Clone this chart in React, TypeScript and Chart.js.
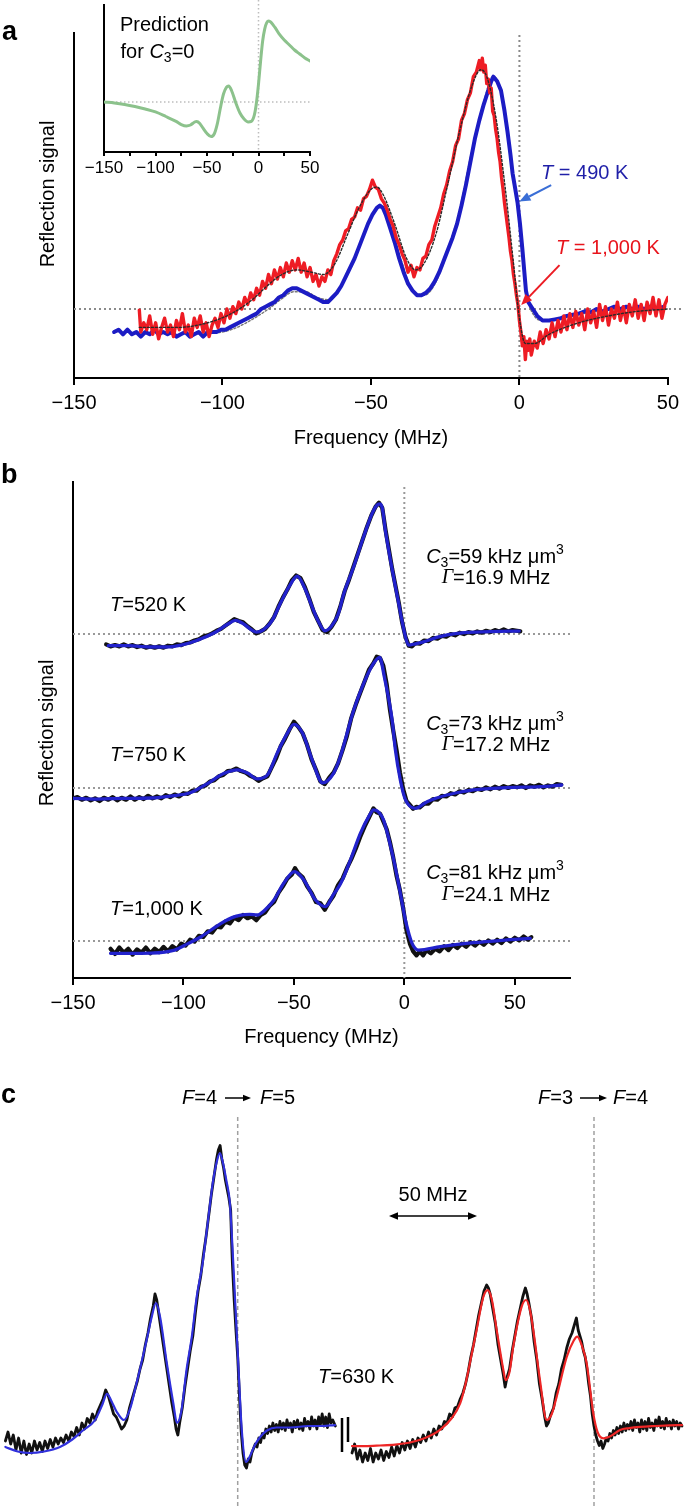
import React, { useEffect, useRef } from 'react';
import { Chart, registerables } from 'chart.js';

Chart.register(...registerables);

const SANS = '"Liberation Sans", Arial, Helvetica, sans-serif';
const SERIF = '"Liberation Serif", "Times New Roman", serif';

type Pt = [number, number];

// ---------------- Panel a : tick values ----------------
const ticksA = [-150, -100, -50, 0, 50];
const ticksInset = [-150, -125, -100, -75, -50, -25, 0, 25, 50];
const ticksB = [-150, -100, -50, 0, 50];

// Panel a, T = 490 K (blue)
const blue490K: Pt[] = [
  [-136.5, -10], [-135, -9], [-133.5, -11], [-132, -9], [-130.5, -11], [-129, -10], [-127.5, -12], [-126, -10],
  [-124.5, -11], [-123, -9], [-121.5, -11], [-120, -10], [-118.5, -11], [-117, -10], [-115.5, -12], [-114, -11],
  [-112.5, -10], [-111, -12], [-109.5, -11], [-108, -10], [-106.5, -12], [-105, -10], [-103.5, -10], [-102, -10],
  [-100.5, -9], [-99, -9], [-97.5, -8], [-96, -7], [-94.5, -6], [-93, -5], [-91.5, -4], [-90, -3], [-88.5, -2],
  [-87, 0], [-85.5, 1], [-84, 2], [-82.5, 3], [-81, 5], [-79.5, 6], [-78, 8], [-76.5, 9], [-75, 9], [-73.5, 8],
  [-72, 7], [-70.5, 6], [-69, 5], [-67.5, 4], [-66, 3], [-64.5, 3], [-63, 5], [-61.5, 7], [-60, 10], [-58.5, 14],
  [-57, 18], [-55.5, 22], [-54, 27], [-52.5, 32], [-51, 37], [-49.5, 41], [-48, 44], [-47, 45], [-46, 44],
  [-45, 41], [-43.5, 35], [-42, 29], [-40.5, 22], [-39, 16], [-37.5, 11], [-36, 8], [-34.5, 6], [-33, 6],
  [-31.5, 7], [-30, 9], [-28.5, 12], [-27, 16], [-25.5, 21], [-24, 26], [-22.5, 31], [-21, 37], [-19.5, 45],
  [-18, 54], [-16.5, 64], [-15, 74], [-13.5, 82], [-12, 89], [-10.5, 95], [-9.5, 99], [-8.75, 101], [-7.5, 99],
  [-6.2, 95], [-5, 86], [-4, 77], [-3, 67], [-2.3, 59], [-1.5, 53], [-0.6, 46], [0.2, 37], [1, 26], [1.6, 17],
  [2.2, 8], [3, 3], [4.5, 0], [6, -3], [7.8, -5], [10, -5], [12, -4.5], [14, -4], [16, -3], [18, -2.5], [20, -2],
  [22, -1], [24, -1.5], [26, 0], [28, -1], [30, 0], [32, 1], [34, 0], [36, 1], [38, 0], [40, 1], [42, 0],
  [44, 1], [46, 0], [48.8, 1],
];

// Panel a, T = 1,000 K (red, noisy)
const red1000K: Pt[] = [
  [-128, -0.5], [-127.5, -10], [-126.5, -6], [-125.5, -9], [-124.5, -3], [-123.5, -11], [-122.5, -6], [-121.5, -13],
  [-120.5, -8], [-119.5, -4], [-118.5, -10], [-117.5, -7], [-116.5, -12], [-115.5, -5], [-114.5, -9], [-113.5, -2],
  [-112.5, -10], [-111.5, -7], [-110.5, -12], [-109.5, -4], [-108.5, -8], [-107.5, -3], [-106.5, -10], [-105.5, -6],
  [-104.5, -12], [-103.5, -7], [-102.5, -4], [-101.5, -8], [-100.5, -2], [-99.5, -6], [-98.5, 0], [-97.5, -4],
  [-96.5, 1], [-95.5, -2], [-94.5, 3], [-93.5, 0], [-92.5, 5], [-91.5, 2], [-90.5, 7], [-89.5, 4], [-88.5, 9],
  [-87.5, 6], [-86.5, 12], [-85.5, 9], [-84.5, 15], [-83.5, 11], [-82.5, 17], [-81.5, 13], [-80.5, 18], [-79.5, 14],
  [-78.5, 20], [-77.5, 16], [-76.5, 21], [-75.5, 17], [-74.5, 22], [-73.5, 16], [-72.5, 20], [-71.5, 14], [-70.5, 18],
  [-69.5, 12], [-68.5, 15], [-67.5, 10], [-66.5, 14], [-65.5, 12], [-64.5, 17], [-63.5, 15], [-62.5, 21], [-61.5, 24],
  [-60.5, 28], [-59.5, 30], [-58.5, 34], [-57.5, 35], [-56.5, 39], [-55.5, 40], [-54.5, 44], [-53.5, 43], [-52.5, 48],
  [-51.5, 49], [-50.5, 52], [-49.5, 56], [-48.5, 53], [-47.5, 52], [-46.5, 48], [-45.5, 46], [-44.5, 43], [-43.5, 39],
  [-42.5, 36], [-41.5, 31], [-40.5, 28], [-39.5, 24], [-38.5, 21], [-37.5, 16], [-36.5, 19], [-35.5, 14], [-34.5, 18],
  [-33.5, 17], [-32.5, 22], [-31.5, 23], [-30.5, 28], [-29.5, 30], [-28.5, 36], [-27.5, 40], [-26.5, 44], [-25.5, 50],
  [-24.5, 54], [-23.5, 60], [-22.5, 64], [-21.5, 71], [-20.5, 74], [-19.5, 82], [-18.5, 85], [-17.5, 91], [-16.5, 94],
  [-15.5, 101], [-14.5, 103], [-13.5, 108], [-13, 104], [-12.5, 109], [-12, 103], [-11.5, 106], [-11, 98], [-10.5, 100],
  [-10, 94], [-9.5, 96], [-9, 86], [-8.5, 84], [-8, 78], [-7.5, 74], [-7, 68], [-6.5, 64], [-6, 57], [-5.5, 52],
  [-5, 46], [-4.5, 41], [-4, 36], [-3.5, 31], [-3, 25], [-2.5, 21], [-2, 15], [-1.5, 11], [-1, 6], [-0.5, 2],
  [0, -5], [0.5, -10], [1, -16], [1.5, -12], [2, -22], [2.5, -14], [3, -18], [3.5, -13], [4, -20], [5, -14],
  [6, -17], [7, -10], [8, -15], [9, -9], [10, -13], [11, -6], [12, -12], [13, -5], [14, -10], [15, -3], [16, -9],
  [17, -2], [18, -8], [19, -1], [20, -7], [21, -2], [22, -9], [23, 0], [24, -6], [25, -1], [26, -8], [27, 2],
  [28, -5], [29, 1], [30, -7], [31, 0], [32, -4], [33, 3], [34, -5], [35, 1], [36, -6], [37, 2], [38, -3], [39, 4],
  [40, -4], [41, 2], [42, -5], [43, 3], [44, -2], [45, 5], [46, -3], [47, 4], [48, -4], [49, 2], [50, 5],
];

// Panel a, fitted curves (dotted)
const fit490K: Pt[] = [
  [-104, -10.5], [-100, -10], [-96, -8.5], [-92, -6], [-88, -3], [-84, 0.5], [-80, 4.5], [-76, 7.5], [-72, 7.5],
  [-68, 5], [-64, 4], [-60, 10], [-55, 23], [-50, 40], [-47, 45], [-44, 38], [-40, 22], [-36, 8], [-32, 6],
  [-28, 12], [-24, 26], [-20, 44], [-16, 69], [-12, 90], [-9, 101], [-6, 94], [-3, 66], [0, 38], [2, 10],
  [5, -3], [8, -5], [14, -4], [24, -1.5], [35, 0], [48, 0.8],
];
const fit1000K: Pt[] = [
  [-128, -8], [-115, -8], [-105, -6], [-97, -2], [-90, 4], [-85, 10], [-80, 15], [-75, 17], [-70, 16], [-66, 15],
  [-62, 20], [-58, 32], [-54, 44], [-50, 52], [-48, 53], [-46, 50], [-42, 37], [-38, 22], [-35, 17], [-32, 20],
  [-28, 33], [-24, 55], [-20, 78], [-16, 97], [-13, 104], [-11, 101], [-8, 84], [-5, 55], [-2, 20], [0, -4],
  [2, -15], [5, -15], [10, -11], [20, -6], [30, -3], [40, -1], [50, 0],
];

// Inset: prediction for C3 = 0
const predictionC3zero: Pt[] = [
  [-150, 0], [-140, -1.2], [-130, -3], [-120, -5.5], [-110, -8.6], [-100, -12.3], [-90, -17.9], [-80, -24],
  [-75, -27.8], [-70, -29.6], [-66, -28.4], [-62, -24.7], [-60, -24], [-57, -26.5], [-54, -32], [-50, -38.9],
  [-46, -42.6], [-43, -39.5], [-40, -27], [-37, -7.4], [-34, 9.9], [-31, 18.5], [-29, 19.8], [-26, 13.6],
  [-22, -1.2], [-18, -13.6], [-14, -21], [-10, -24.7], [-7, -24], [-4, -16], [-2, -1], [0, 22], [2, 50],
  [4, 75], [6, 90], [8, 98], [10, 100], [12, 98.5], [16, 92], [20, 84], [25, 76.5], [30, 70.4], [35, 64.2],
  [40, 59.3], [45, 54.3], [50, 50.6],
];

// ---------------- Panel b ----------------
const fit520K: Pt[] = [
  [-134, -9], [-125, -9], [-115, -10], [-108, -10], [-101, -8.5], [-94, -5], [-86, 1], [-80, 7.5], [-76.5, 10.5],
  [-73, 8], [-69, 3], [-67, 1.5], [-64, 3], [-60, 10], [-56, 24], [-52, 37], [-48.5, 44.5], [-45, 35], [-42, 22],
  [-39, 10], [-36, 2.5], [-33, 6], [-30, 15], [-27.4, 31], [-22.9, 52], [-18.4, 75], [-14.5, 93], [-12.5, 99],
  [-11.2, 100], [-10, 97], [-8.6, 80], [-6.3, 57], [-4.1, 37], [-2.6, 24], [-1.4, 13], [0.5, -2], [1.9, -8.5],
  [5, -7.5], [8.6, -6], [16, -2], [24, 0.5], [39, 1.8], [52, 2.3],
];
const data520K: Pt[] = [
  [-135, -8], [-133, -9.5], [-131, -8.5], [-129, -9.5], [-127, -8], [-125, -9.5], [-123, -8.5], [-121, -10],
  [-119, -9], [-117, -10.5], [-115, -9.5], [-113, -10.5], [-111, -9.5], [-109, -10.5], [-107, -9], [-105, -9.5],
  [-103, -8], [-101, -8.5], [-99, -7], [-97, -6.5], [-95, -5], [-93, -4], [-91, -2], [-89, -1], [-87, 0.5],
  [-85, 2.5], [-83, 4], [-81, 6.5], [-79, 9], [-77, 11.5], [-75, 10], [-73, 9], [-71, 6], [-69, 3.5], [-67, 0.5],
  [-65, 2], [-63, 4], [-61, 8], [-59, 13], [-57, 21], [-55, 28], [-53, 34], [-51, 41], [-49, 45], [-47, 43],
  [-45, 36], [-43, 27], [-41, 17], [-39, 10], [-37, 3], [-35, 1.5], [-33, 5.5], [-31, 11], [-29, 21], [-27, 33],
  [-25, 42], [-23, 52], [-21, 62], [-19, 72], [-17, 82], [-15, 91], [-13, 98], [-11.5, 101], [-10, 97], [-8.5, 80],
  [-7, 65], [-5.5, 50], [-4, 37], [-2.5, 24], [-1, 9], [0.5, -2], [2, -9], [3.5, -9.5], [5, -7], [7, -7.5],
  [9, -5], [11, -5.5], [13, -3], [15, -3.5], [17, -1.5], [19, -2], [21, 0], [23, -1], [25, 1], [27, 0], [29, 1.5],
  [31, 0.5], [33, 2], [35, 1], [37, 2.5], [39, 1.5], [41, 3], [43, 2], [45, 3.5], [47, 2], [49, 3], [51, 2.5],
  [52.5, 2],
];
const fit750K: Pt[] = [
  [-150, -8], [-140, -8.5], [-128, -8], [-115, -7.7], [-105, -6], [-97, -3.6], [-89, 3.6], [-82, 11],
  [-75.6, 14], [-71, 11.5], [-66.6, 7], [-62, 10], [-57.5, 27], [-53, 42], [-50, 49], [-46, 42], [-41.7, 21.5],
  [-37, 4], [-32, 11.5], [-29, 24], [-22.9, 60], [-18.4, 80.5], [-13.9, 96], [-11.2, 100.5], [-9, 85],
  [-5.5, 52], [-4.1, 30], [-1.8, 6], [0.5, -9], [5, -15.6], [10.3, -10.5], [19.3, -5.4], [31.3, -1.5],
  [46.4, 0.3], [61.5, 1], [71.3, 2.3],
];
const data750K: Pt[] = [
  [-150, -8], [-148, -7], [-146, -9], [-144, -7.5], [-142, -9.5], [-140, -8], [-138, -10], [-136, -7.5], [-134, -9],
  [-132, -7], [-130, -9.5], [-128, -7.5], [-126, -9], [-124, -6.5], [-122, -9], [-120, -7], [-118, -8.5], [-116, -6],
  [-114, -8], [-112, -6.5], [-110, -8], [-108, -5.5], [-106, -7], [-104, -5], [-102, -6.5], [-100, -4], [-98, -4.5],
  [-96, -2], [-94, -2], [-92, 1], [-90, 2], [-88, 5], [-86, 6], [-84, 9], [-82, 10], [-80, 13], [-78, 13.5],
  [-76, 15], [-74, 13], [-72, 12], [-70, 9.5], [-68, 8], [-66, 5.5], [-64, 7.5], [-62, 9], [-60, 16], [-58, 23],
  [-56, 32], [-54, 38], [-52, 45], [-50, 51], [-48, 47], [-46, 42], [-44, 33], [-42, 22], [-40, 14], [-38, 5],
  [-36, 3], [-34, 8], [-32, 12], [-30, 19], [-28, 29], [-26, 40], [-24, 54], [-22, 64], [-20, 73], [-18, 82],
  [-16, 91], [-14, 96], [-12.5, 101], [-11, 100], [-9.5, 94], [-8, 80], [-6.5, 60], [-5, 44], [-3.5, 29], [-2, 12],
  [-0.5, -1], [1, -10], [2.5, -13], [4, -16], [5.5, -14.5], [7, -15], [9, -12], [11, -12], [13, -8.5], [15, -9],
  [17, -6], [19, -6.5], [21, -4], [23, -5], [25, -2.5], [27, -3.5], [29, -1.5], [31, -2.5], [33, -0.5], [35, -1.5],
  [37, 0.5], [39, -1], [41, 1], [43, -0.5], [45, 1.5], [47, 0], [49, 1.5], [51, 0.5], [53, 2], [55, 0], [57, 2],
  [59, 1], [61, 2.5], [63, 0.5], [65, 2], [67, 1], [69, 3], [71, 2.5],
];
const fit1000Kb: Pt[] = [
  [-133, -9.5], [-125, -9.5], [-115, -9.3], [-104, -7], [-98, -2], [-92, 3.3], [-83, 13.6], [-78, 18], [-74, 20],
  [-70, 20.5], [-66.6, 20], [-63, 24], [-59, 31.5], [-54.6, 44.4], [-49.7, 53.3], [-45.5, 47], [-40.2, 31.5],
  [-35.7, 26.4], [-32, 36], [-28.9, 44], [-24.4, 62.3], [-19.9, 82.8], [-16, 96], [-13.9, 100.8], [-11.5, 99],
  [-9.4, 93], [-4.8, 62.3], [-1.8, 36.7], [0.5, 16], [3.5, -1.8], [6.5, -7], [16.3, -4.4], [31.3, -1.3],
  [46.4, 0.8], [57, 2],
];
const data1000Kb: Pt[] = [
  [-133, -6], [-131, -10], [-129, -5], [-127, -9], [-125, -6], [-123, -10.5], [-121, -6.5], [-119, -9], [-117, -5],
  [-115, -9.5], [-113, -6], [-111, -8.5], [-109, -4.5], [-107, -8], [-105, -4], [-103, -6.5], [-101, -2], [-99, -3.5],
  [-97, 1], [-95, -0.5], [-93, 4], [-91, 3], [-89, 7.5], [-87, 6.5], [-85, 11], [-83, 10.5], [-81, 15], [-79, 13.5],
  [-77, 18], [-75, 16], [-73, 20], [-71, 17.5], [-69, 19], [-67, 16], [-65, 20], [-63, 22], [-61, 27], [-59, 30],
  [-57, 37], [-55, 42], [-53, 48], [-51, 51], [-49.5, 56], [-48, 52], [-46, 49], [-44, 42], [-42, 37], [-40, 30],
  [-38, 29], [-36, 24], [-34, 30], [-32, 35], [-30, 43], [-28, 48], [-26, 56], [-24, 63], [-22, 71], [-20, 80],
  [-18, 88], [-16, 95], [-14, 102], [-12.5, 99], [-11, 98], [-9.5, 92], [-8, 86], [-6.5, 76], [-5, 64], [-3.5, 50],
  [-2, 39], [-0.5, 25], [1, 8], [2.5, -2], [4, -8], [5.5, -11], [7, -8], [8.5, -11], [10, -7], [12, -9.5], [14, -6],
  [16, -8], [18, -4], [20, -7], [22, -3], [24, -5.5], [26, -2], [28, -4.5], [30, -1], [32, -3.5], [34, -0.5],
  [36, -3], [38, 0.5], [40, -2], [42, 1], [44, -1.5], [46, 2], [48, -0.5], [50, 2.5], [52, 0.5], [54, 3.5],
  [56, 1], [57.5, 3],
];
// vertical offsets of the three stacked spectra (signal units)
const offset520K = 264.6;
const offset750K = 146.15;
const offset1000K = 28.46;

// ---------------- Panel c ----------------
// frequencies relative to the F=4 -> F=5 line
const fitF45: Pt[] = [
  [-132, 1], [-125, -0.5], [-118, -1], [-110, -0.5], [-101, 1], [-94, 3.5], [-88, 6.5], [-81, 10], [-77, 15],
  [-74.3, 18.7], [-71.5, 16], [-69, 13], [-64.6, 10], [-61, 14], [-58, 21], [-55.5, 27], [-52, 36], [-49, 44],
  [-46.4, 49], [-44, 44], [-40.3, 29], [-36.6, 15.6], [-34.5, 9], [-32, 13], [-29, 27], [-26, 38], [-23.3, 51],
  [-20, 62], [-17.6, 73], [-13.9, 90], [-11.5, 97], [-10.1, 99], [-8.5, 96], [-6.5, 90], [-4.4, 82], [-2.5, 62],
  [0.3, 29], [2.3, 6.7], [4.7, -4], [7, -2], [9.8, 1.7], [13, 4.5], [16.6, 6.5], [22, 7.5], [30, 7.5], [40, 8],
  [48, 8], [55.3, 8.3],
];
const dataF45: Pt[] = [
  [-132, 3], [-130.5, 6], [-129, 2], [-127.5, 5], [-126, 0], [-124.5, 4], [-123, -1], [-121.5, 3], [-120, -1.5],
  [-118.5, 2], [-117, -1], [-115.5, 3], [-114, 0], [-112.5, 2.5], [-111, -0.5], [-109.5, 3], [-108, 0.5], [-106.5, 3.5],
  [-105, 1], [-103.5, 4], [-102, 2], [-100.5, 4], [-99, 2.5], [-97.5, 5], [-96, 3], [-94.5, 6], [-93, 4.5], [-91.5, 7.5],
  [-90, 5], [-88.5, 9], [-87, 7], [-85.5, 10.5], [-84, 9], [-82.5, 12], [-81, 10], [-79.5, 13], [-78, 15], [-76.5, 17],
  [-75, 20], [-73.5, 18], [-72, 15], [-70.5, 12], [-69, 11], [-67.5, 9], [-66, 7], [-64.5, 8], [-63, 10], [-61.5, 14],
  [-60, 17], [-58.5, 20], [-57, 23], [-55.5, 27], [-54, 30], [-52.5, 35], [-51, 39], [-49.5, 44], [-48, 48], [-47, 52],
  [-46, 50], [-45, 46], [-43.5, 40], [-42, 34], [-40.5, 28], [-39, 22], [-37.5, 16], [-36, 11], [-35, 7], [-34, 5],
  [-33, 9], [-31.5, 14], [-30, 21], [-28.5, 27], [-27, 33], [-25.5, 38], [-24, 46], [-22.5, 53], [-21, 58], [-19.5, 65],
  [-18, 71], [-16.5, 78], [-15, 85], [-13.5, 91], [-12, 97], [-11, 100], [-10, 101.5], [-9, 97], [-8, 94], [-7, 90],
  [-6, 87], [-5, 84], [-4, 80], [-3.5, 70], [-3, 62], [-2, 50], [-1, 40], [0, 31], [1, 18], [2, 6], [3, -1], [4, -5],
  [5, -6], [6, -3], [7, -4], [8, -1], [9, 0.5], [10, 2], [11, 1], [12, 4], [13, 2.5], [14, 5.5], [15, 4], [16, 7],
  [17, 5.5], [18, 8], [19, 6], [20, 9], [21, 6.5], [22, 8.5], [23, 6], [24, 9.5], [25, 7], [26, 9], [27, 6.5], [28, 10],
  [29, 7.5], [30, 9], [31, 6], [32, 9.5], [33, 7.5], [34, 10], [35, 7], [36, 9], [37, 6.5], [38, 10.5], [39, 8],
  [40, 9.5], [41, 7], [42, 11], [43, 8], [44, 10], [45, 7], [46, 11], [47, 8.5], [48, 12], [49, 8], [50, 11],
  [51, 7.5], [52, 12], [53, 9], [54, 10], [55.5, 8],
];
// frequencies relative to the F=3 -> F=4 line
const fitF34: Pt[] = [
  [-137.5, 1.3], [-130, 1.3], [-121.6, 1.5], [-113, 1.8], [-104.5, 2.5], [-96, 4], [-87.5, 6.7], [-81, 10.5],
  [-76, 15.6], [-73, 22], [-70.5, 29], [-66.7, 40], [-62.9, 51], [-60.4, 53.3], [-58, 50], [-55.3, 40], [-51.5, 26.7],
  [-50.2, 23.3], [-48, 26], [-45.9, 34.4], [-41.1, 47.8], [-38.6, 50], [-36.5, 47], [-34.5, 40], [-30.7, 23.3],
  [-26.9, 10], [-24, 12], [-21.2, 17.8], [-15.5, 31], [-11.5, 36.5], [-9.5, 37.8], [-7, 35], [-4.2, 29], [-0.4, 12.2],
  [2, 6], [5.3, 3.9], [9, 4.5], [14.8, 6.7], [20, 7.3], [26.1, 7.7], [35, 8], [43, 8.2], [50, 8.3],
];
const dataF34: Pt[] = [
  [-137.5, -1], [-136, 2], [-134.5, -3], [-133, 0], [-131.5, -4], [-130, -1], [-128.5, -3.5], [-127, 0.5], [-125.5, -4],
  [-124, -1], [-122.5, -3], [-121, 0], [-119.5, -3.5], [-118, -0.5], [-116.5, -2.5], [-115, 1], [-113.5, -2], [-112, 1.5],
  [-110.5, -1], [-109, 2.5], [-107.5, 0], [-106, 3], [-104.5, 0.5], [-103, 3.5], [-101.5, 1], [-100, 4], [-98.5, 2.5],
  [-97, 5], [-95.5, 3], [-94, 6], [-92.5, 4], [-91, 7], [-89.5, 5], [-88, 8], [-86.5, 7], [-85, 9.5], [-83.5, 9],
  [-82, 12], [-80.5, 11], [-79, 14], [-77.5, 14.5], [-76, 17], [-74.5, 19], [-73, 22], [-71.5, 26], [-70, 31],
  [-68.5, 35], [-67, 40], [-65.5, 45], [-64, 49], [-62.5, 53], [-61, 55], [-60, 54], [-59, 52], [-57.5, 47], [-56, 42],
  [-54.5, 35], [-53, 30], [-51.5, 25], [-50.5, 21], [-49.5, 24], [-48, 27], [-46.5, 33], [-45, 38], [-43.5, 43],
  [-42, 47], [-40.5, 51], [-39, 54], [-38, 52], [-37, 49], [-35.5, 44], [-34, 36], [-32.5, 30], [-31, 22], [-29.5, 17],
  [-28, 11], [-27, 8], [-26, 9], [-24.5, 12], [-23, 14], [-21.5, 19], [-20, 22], [-18.5, 27], [-17, 30], [-15.5, 34],
  [-14, 37], [-12.5, 39], [-11, 42], [-10, 44], [-9, 40], [-8, 38], [-7, 36], [-6, 33], [-5, 31], [-4, 27], [-3, 22],
  [-2, 18], [-1, 12], [0, 8], [1, 5], [2, 3], [3, 1.5], [4, 3], [5, 0.5], [6, 2], [7, 4], [8, 3], [9, 5.5], [10, 4],
  [11, 6.5], [12, 5], [13, 7.5], [14, 5.5], [15, 8], [16, 6], [17, 9], [18, 6.5], [19, 8.5], [20, 7], [21, 9.5],
  [22, 6.5], [23, 10], [24, 7.5], [25, 9], [26, 6], [27, 10], [28, 7], [29, 9.5], [30, 6.5], [31, 10.5], [32, 7.5],
  [33, 9], [34, 6.5], [35, 10], [36, 8], [37, 11], [38, 7.5], [39, 9.5], [40, 7], [41, 10.5], [42, 8], [43, 9.5],
  [44, 7], [45, 10], [46, 8], [47, 9.5], [48, 7], [49, 9], [50, 8],
];

// ---------------- helpers ----------------
type Part = { t: string; i?: boolean; sub?: boolean; sup?: boolean; serif?: boolean };

function drawRich(ctx: CanvasRenderingContext2D, parts: Part[], x: number, y: number, size: number, color: string, align: 'left' | 'center') {
  const fontFor = (p: Part) => {
    const s = p.sub || p.sup ? Math.round(size * 0.68) : size;
    return `${p.i ? 'italic ' : ''}${s}px ${p.serif ? SERIF : SANS}`;
  };
  const widths: number[] = [];
  let total = 0;
  for (const p of parts) {
    ctx.font = fontFor(p);
    const w = ctx.measureText(p.t).width;
    widths.push(w);
    total += w;
  }
  let cx = align === 'center' ? x - total / 2 : x;
  ctx.textAlign = 'left';
  ctx.textBaseline = 'middle';
  ctx.fillStyle = color;
  parts.forEach((p, k) => {
    ctx.font = fontFor(p);
    const dy = p.sub ? size * 0.32 : p.sup ? -size * 0.36 : 0;
    ctx.fillText(p.t, cx, y + dy);
    cx += widths[k];
  });
}

function arrow(ctx: CanvasRenderingContext2D, x1: number, y1: number, x2: number, y2: number, color: string, w: number, head: number) {
  const a = Math.atan2(y2 - y1, x2 - x1);
  const bx = x2 - head * Math.cos(a);
  const by = y2 - head * Math.sin(a);
  ctx.save();
  ctx.setLineDash([]);
  ctx.strokeStyle = color;
  ctx.fillStyle = color;
  ctx.lineWidth = w;
  ctx.beginPath();
  ctx.moveTo(x1, y1);
  ctx.lineTo(bx, by);
  ctx.stroke();
  const hw = head * 0.42;
  ctx.beginPath();
  ctx.moveTo(x2, y2);
  ctx.lineTo(bx + hw * Math.sin(a), by - hw * Math.cos(a));
  ctx.lineTo(bx - hw * Math.sin(a), by + hw * Math.cos(a));
  ctx.closePath();
  ctx.fill();
  ctx.restore();
}

function seg(ctx: CanvasRenderingContext2D, x1: number, y1: number, x2: number, y2: number) {
  ctx.beginPath();
  ctx.moveTo(x1, y1);
  ctx.lineTo(x2, y2);
  ctx.stroke();
}

function rotText(ctx: CanvasRenderingContext2D, t: string, x: number, y: number, size: number) {
  ctx.save();
  ctx.translate(x, y);
  ctx.rotate(-Math.PI / 2);
  ctx.font = `${size}px ${SANS}`;
  ctx.fillStyle = '#000';
  ctx.textAlign = 'center';
  ctx.textBaseline = 'middle';
  ctx.fillText(t, 0, 0);
  ctx.restore();
}

function letter(ctx: CanvasRenderingContext2D, t: string, x: number, y: number) {
  ctx.font = `bold 27px ${SANS}`;
  ctx.fillStyle = '#000';
  ctx.textAlign = 'left';
  ctx.textBaseline = 'alphabetic';
  ctx.fillText(t, x, y);
}

const fmtTick = (v: number) => (v % 50 === 0 ? String(v).replace('-', '\u2212') : '');

const line = (data: Pt[], color: string, width: number, extra: any = {}) => ({
  data,
  borderColor: color,
  backgroundColor: color,
  borderWidth: width,
  pointRadius: 0,
  fill: false,
  tension: 0,
  borderJoinStyle: 'round',
  borderCapStyle: 'round',
  ...extra,
});
const smooth = { cubicInterpolationMode: 'monotone' };

const xAxis = (min: number, max: number, ticks: number[], fontSize: number, tickLen: number, pad: number, height: number) => ({
  type: 'linear',
  position: 'bottom',
  min,
  max,
  afterBuildTicks: (s: any) => {
    s.ticks = ticks.map((v) => ({ value: v }));
  },
  afterFit: (s: any) => {
    s.height = height;
  },
  grid: { display: true, drawOnChartArea: false, drawTicks: true, tickLength: tickLen, color: '#000', lineWidth: 2 },
  border: { display: true, color: '#000', width: 2 },
  ticks: {
    color: '#000',
    font: { family: SANS, size: fontSize },
    padding: pad,
    maxRotation: 0,
    autoSkip: false,
    callback: (v: any) => fmtTick(Number(v)),
  },
});
const yAxis = (min: number, max: number, width: number) => ({
  type: 'linear',
  min,
  max,
  afterFit: (s: any) => {
    s.width = width;
  },
  grid: { display: false },
  border: { display: true, color: '#000', width: 2 },
  ticks: { display: false },
});

const baseOptions = {
  responsive: false,
  maintainAspectRatio: false,
  animation: false,
  devicePixelRatio: 1,
  events: [],
  plugins: { legend: { display: false }, tooltip: { enabled: false }, title: { display: false } },
};

export default function App() {
  const refA = useRef<HTMLCanvasElement>(null);
  const refI = useRef<HTMLCanvasElement>(null);
  const refB = useRef<HTMLCanvasElement>(null);
  const refC = useRef<HTMLCanvasElement>(null);

  useEffect(() => {
    const charts: Chart[] = [];

    // ---------- Panel a main ----------
    charts.push(
      new Chart(refA.current as HTMLCanvasElement, {
        type: 'line',
        data: {
          datasets: [
            line(fit1000K, '#2a2a2a', 1.4, { ...smooth, borderDash: [2, 2] }),
            line(red1000K, '#ee1c24', 3.4),
            line(blue490K, '#1c1cc4', 4),
            line(fit490K, '#777', 1.4, { ...smooth, borderDash: [2, 2] }),
          ],
        } as any,
        options: {
          ...baseOptions,
          layout: { padding: { left: 0, right: 17, top: 33, bottom: 0 } },
          scales: { x: xAxis(-150, 50, ticksA, 20, 7, 6, 82), y: yAxis(-30, 120, 74) },
        } as any,
        plugins: [
          {
            id: 'decorA',
            beforeDatasetsDraw(chart: any) {
              const { ctx, scales } = chart;
              const { x, y } = scales;
              ctx.save();
              ctx.strokeStyle = '#8a8a8a';
              ctx.lineWidth = 2;
              ctx.setLineDash([2, 3]);
              const y0 = y.getPixelForValue(0);
              seg(ctx, x.left, y0, 683, y0);
              const x0 = x.getPixelForValue(0);
              seg(ctx, x0, 35, x0, y.bottom);
              ctx.restore();
            },
            afterDraw(chart: any) {
              const { ctx, scales } = chart;
              const { x, y } = scales;
              ctx.save();
              letter(ctx, 'a', 2, 40);
              rotText(ctx, 'Reflection signal', 48, 194, 20);
              ctx.font = `20px ${SANS}`;
              ctx.fillStyle = '#000';
              ctx.textAlign = 'center';
              ctx.textBaseline = 'middle';
              ctx.fillText('Frequency (MHz)', (x.left + x.right) / 2, 438);
              arrow(ctx, x.getPixelForValue(10.7), y.getPixelForValue(53.9), x.getPixelForValue(0), y.getPixelForValue(46.7), '#3a6ed6', 2, 11);
              arrow(ctx, x.getPixelForValue(13.5), y.getPixelForValue(19.1), x.getPixelForValue(0.6), y.getPixelForValue(1.7), '#ec1c24', 2, 11);
              drawRich(ctx, [{ t: 'T', i: true }, { t: ' = 490 K' }], 541, 173, 20, '#1f1fa8', 'left');
              drawRich(ctx, [{ t: 'T', i: true }, { t: ' = 1,000 K' }], 556, 248, 20, '#e8141c', 'left');
              ctx.restore();
            },
          },
        ],
      })
    );

    // ---------- Inset ----------
    charts.push(
      new Chart(refI.current as HTMLCanvasElement, {
        type: 'line',
        data: { datasets: [line(predictionC3zero, '#8cc28c', 3, smooth)] } as any,
        options: {
          ...baseOptions,
          layout: { padding: { left: 0, right: 30, top: 5, bottom: 0 } },
          scales: { x: xAxis(-150, 50, ticksInset, 17, 4, 2, 38), y: yAxis(-61.73, 119.75, 104) },
        } as any,
        plugins: [
          {
            id: 'decorI',
            beforeDatasetsDraw(chart: any) {
              const { ctx, scales } = chart;
              const { x, y } = scales;
              ctx.save();
              ctx.strokeStyle = '#bdbdbd';
              ctx.lineWidth = 1.5;
              ctx.setLineDash([1.5, 2.5]);
              const y0 = y.getPixelForValue(0);
              seg(ctx, x.left, y0, x.right, y0);
              const x0 = x.getPixelForValue(0);
              seg(ctx, x0, 0, x0, y.bottom);
              ctx.restore();
            },
            afterDraw(chart: any) {
              const { ctx } = chart;
              ctx.save();
              ctx.font = `20px ${SANS}`;
              ctx.fillStyle = '#000';
              ctx.textAlign = 'left';
              ctx.textBaseline = 'middle';
              ctx.fillText('Prediction', 120, 25);
              drawRich(ctx, [{ t: 'for ' }, { t: 'C', i: true }, { t: '3', sub: true }, { t: '=0' }], 120.5, 52, 20, '#000', 'left');
              ctx.restore();
            },
          },
        ],
      })
    );

    // ---------- Panel b ----------
    const shift = (d: Pt[], o: number): Pt[] => d.map(([f, v]) => [f, v + o] as Pt);
    charts.push(
      new Chart(refB.current as HTMLCanvasElement, {
        type: 'line',
        data: {
          datasets: [
            line(shift(fit520K, offset520K), '#2222cc', 3.3, smooth),
            line(shift(fit750K, offset750K), '#2222cc', 3.3, smooth),
            line(shift(fit1000Kb, offset1000K), '#2222cc', 3.3, smooth),
            line(shift(data520K, offset520K), '#111', 4.2),
            line(shift(data750K, offset750K), '#111', 4.2),
            line(shift(data1000Kb, offset1000K), '#111', 4.2),
          ],
        } as any,
        options: {
          ...baseOptions,
          layout: { padding: { left: 0, right: 115, top: 27, bottom: 0 } },
          scales: { x: xAxis(-150, 75, ticksB, 20, 7, 6, 72), y: yAxis(0, 381.54, 73) },
        } as any,
        plugins: [
          {
            id: 'decorB',
            beforeDatasetsDraw(chart: any) {
              const { ctx, scales } = chart;
              const { x, y } = scales;
              ctx.save();
              ctx.strokeStyle = '#999';
              ctx.lineWidth = 2;
              ctx.setLineDash([2, 3]);
              for (const o of [offset520K, offset750K, offset1000K]) {
                const yy = y.getPixelForValue(o);
                seg(ctx, x.left, yy, x.right, yy);
              }
              const x0 = x.getPixelForValue(0);
              seg(ctx, x0, 32, x0, y.bottom);
              ctx.restore();
            },
            afterDraw(chart: any) {
              const { ctx, scales } = chart;
              const { x } = scales;
              ctx.save();
              letter(ctx, 'b', 1, 28);
              rotText(ctx, 'Reflection signal', 47, 278, 20);
              ctx.font = `20px ${SANS}`;
              ctx.fillStyle = '#000';
              ctx.textAlign = 'center';
              ctx.textBaseline = 'middle';
              ctx.fillText('Frequency (MHz)', (x.left + x.right) / 2, 582);
              const tl = [
                ['520 K', 150],
                ['750 K', 300],
                ['1,000 K', 454],
              ] as [string, number][];
              for (const [t, yy] of tl) drawRich(ctx, [{ t: 'T', i: true }, { t: '=' + t }], 110, yy, 20, '#000', 'left');
              const cl = [
                ['59', '16.9', 102, 123],
                ['73', '17.2', 269, 290],
                ['81', '24.1', 418, 440],
              ] as [string, string, number, number][];
              for (const [c, g, y1, y2] of cl) {
                drawRich(ctx, [{ t: 'C', i: true }, { t: '3', sub: true }, { t: '=' + c + ' kHz \u03bcm' }, { t: '3', sup: true }], 495, y1, 20, '#000', 'center');
                drawRich(ctx, [{ t: '\u0393', i: true, serif: true }, { t: '=' + g + ' MHz' }], 496, y2, 20, '#000', 'center');
              }
              ctx.restore();
            },
          },
        ],
      })
    );

    // ---------- Panel c ----------
    charts.push(
      new Chart(refC.current as HTMLCanvasElement, {
        type: 'line',
        data: {
          datasets: [
            line(fitF45, '#3030dc', 2.2, { ...smooth, xAxisID: 'xL' }),
            line(fitF34, '#ee2626', 2.2, { ...smooth, xAxisID: 'xR' }),
            line(dataF45, '#111', 2.8, { xAxisID: 'xL' }),
            line(dataF34, '#111', 2.8, { xAxisID: 'xR' }),
          ],
        } as any,
        options: {
          ...baseOptions,
          layout: { padding: 0 },
          scales: {
            xL: { type: 'linear', display: false, min: -135.057, max: 254.148 },
            xR: { type: 'linear', display: false, min: -337.5, max: 51.705 },
            y: { type: 'linear', display: false, min: -20.333, max: 133.333 },
          },
        } as any,
        plugins: [
          {
            id: 'decorC',
            beforeDatasetsDraw(chart: any) {
              const { ctx, scales } = chart;
              ctx.save();
              ctx.strokeStyle = '#a0a0a0';
              ctx.lineWidth = 1.5;
              ctx.setLineDash([4, 3]);
              const xa = scales.xL.getPixelForValue(0);
              const xb = scales.xR.getPixelForValue(0);
              seg(ctx, xa, 67, xa, 457);
              seg(ctx, xb, 67, xb, 457);
              ctx.restore();
            },
            afterDraw(chart: any) {
              const { ctx } = chart;
              ctx.save();
              letter(ctx, 'c', 1, 53);
              drawRich(ctx, [{ t: 'F', i: true }, { t: '=4' }], 182, 48, 20, '#000', 'left');
              arrow(ctx, 225, 48, 251, 48, '#000', 1.5, 8);
              drawRich(ctx, [{ t: 'F', i: true }, { t: '=5' }], 260, 48, 20, '#000', 'left');
              drawRich(ctx, [{ t: 'F', i: true }, { t: '=3' }], 538, 48, 20, '#000', 'left');
              arrow(ctx, 580, 48, 607, 48, '#000', 1.5, 8);
              drawRich(ctx, [{ t: 'F', i: true }, { t: '=4' }], 613, 48, 20, '#000', 'left');
              ctx.font = `20px ${SANS}`;
              ctx.fillStyle = '#000';
              ctx.textAlign = 'center';
              ctx.textBaseline = 'middle';
              ctx.fillText('50 MHz', 433, 145);
              arrow(ctx, 433, 166, 389, 166, '#000', 1.5, 9);
              arrow(ctx, 433, 166, 477, 166, '#000', 1.5, 9);
              drawRich(ctx, [{ t: 'T', i: true }, { t: '=630 K' }], 318, 327, 20, '#000', 'left');
              ctx.strokeStyle = '#000';
              ctx.lineWidth = 2.5;
              ctx.setLineDash([]);
              seg(ctx, 342, 368, 342, 402);
              seg(ctx, 348, 367, 348, 392);
              ctx.restore();
            },
          },
        ],
      })
    );

    return () => {
      charts.forEach((c) => c.destroy());
    };
  }, []);

  const abs = (left: number, top: number, w: number, h: number) => ({
    position: 'absolute' as const,
    left,
    top,
    width: w,
    height: h,
  });

  return (
    <div style={{ position: 'absolute', left: 0, top: 0, width: 685, height: 1511, background: '#fff', overflow: 'hidden' }}>
      <canvas ref={refA} width={685} height={460} style={abs(0, 0, 685, 460)} />
      <canvas ref={refI} width={340} height={190} style={abs(0, 0, 340, 190)} />
      <canvas ref={refB} width={685} height={595} style={abs(0, 455, 685, 595)} />
      <canvas ref={refC} width={685} height={461} style={abs(0, 1050, 685, 461)} />
    </div>
  );
}
